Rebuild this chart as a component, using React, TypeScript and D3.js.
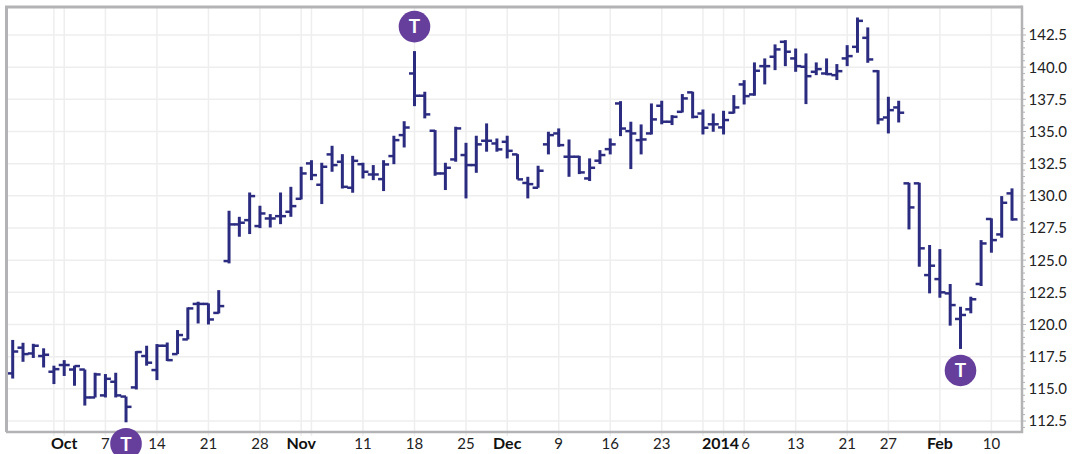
import React, { useEffect, useRef } from "react";
import * as d3 from "d3";

const opens = [116.2,118.2,117.75,117.55,116.33,116.85,116.5,116.5,114.33,114.49,115.55,114.4,115.11,117.55,116.46,118.35,117.7,118.84,121.6,121.6,120.9,124.93,127.78,128.11,127.65,128.24,128.42,128.76,129.77,132.52,130.86,133.22,132.65,130.63,132.46,131.66,131.3,133.09,134.72,139.51,137.78,135.06,131.74,132.83,133.17,132.39,134.28,134.07,134.2,133.22,131.0,130.63,134.0,134.85,133.04,133.04,131.35,132.73,133.63,137.18,135.03,134.33,134.85,137.0,135.76,136.53,138.04,136.4,135.56,135.32,136.46,138.66,137.88,140.08,140.81,141.97,140.68,140.03,139.64,139.51,139.38,140.68,141.58,142.28,139.69,136.09,136.87,130.97,130.97,123.84,123.53,122.42,120.43,121.18,123.15,128.2,127.0,130.19];
const highs = [118.8,118.58,118.5,118.15,116.8,117.23,116.8,116.5,116.25,116.15,116.25,114.4,117.93,118.35,118.48,118.6,119.57,121.33,121.77,121.64,122.67,128.84,128.37,130.26,129.23,128.58,130.26,130.7,132.26,132.77,132.57,133.89,133.24,133.11,132.57,132.39,132.77,134.67,135.8,141.25,138.09,135.11,132.57,135.37,134.12,134.67,135.63,134.46,134.67,133.24,131.48,132.34,134.98,135.24,134.38,133.11,132.91,133.55,134.46,137.36,135.76,135.55,137.18,137.39,136.27,137.91,138.09,136.71,136.4,136.61,137.83,138.99,140.37,140.68,141.77,142.1,141.45,141.07,140.37,140.68,140.24,141.71,143.86,143.09,139.77,137.7,137.39,131.02,131.02,126.18,125.86,123.15,121.38,122.16,126.56,128.25,129.98,130.58];
const lows = [115.8,117.1,117.4,116.66,115.37,116.0,115.24,113.7,114.33,114.33,114.33,112.4,114.95,116.8,115.68,117.16,117.7,118.84,120.08,120.0,120.86,124.75,126.82,127.03,127.49,127.54,127.8,128.37,129.72,131.22,129.36,131.87,130.57,130.24,131.35,131.22,130.37,132.46,133.76,136.97,136.02,131.56,130.45,132.65,129.8,131.79,133.43,133.43,132.91,131.28,129.8,130.63,133.22,133.81,131.48,131.69,131.15,132.47,133.22,134.64,132.08,133.22,134.77,135.56,135.5,136.48,136.02,134.77,134.98,134.77,136.4,137.1,137.78,138.66,139.77,140.08,139.64,137.13,139.38,139.38,139.0,140.08,141.12,140.34,135.56,134.85,135.7,127.39,124.49,122.42,122.08,119.91,118.1,120.87,122.99,125.58,126.75,128.07];
const closes = [117.9,117.7,118.35,117.65,116.53,116.85,116.77,114.33,116.12,115.78,114.49,113.6,117.86,117.03,118.35,117.23,119.18,121.25,121.6,120.39,121.43,127.78,127.91,129.98,128.63,128.24,128.42,129.2,131.74,131.61,132.26,132.39,130.7,132.72,131.87,131.66,132.44,134.33,135.31,137.78,136.33,131.74,132.18,135.24,132.39,134.0,134.28,133.61,133.5,131.28,130.91,131.95,134.72,133.94,133.04,131.82,132.18,133.17,134.0,135.23,134.85,134.38,135.94,135.76,136.14,137.57,136.14,135.29,135.56,135.89,136.87,137.75,139.72,140.08,141.38,141.2,140.08,139.3,139.85,139.46,139.69,140.86,143.6,140.6,135.94,136.66,136.46,129.1,125.92,124.57,122.5,121.51,120.74,121.96,126.3,126.56,129.46,128.17];

const priceTicks = [112.5,115,117.5,120,122.5,125,127.5,130,132.5,135,137.5,140,142.5];
// bar index of every weekly gridline, and the label it gets (some are dropped)
const gridBars = [4,5,9,14,19,24,28,29,34,39,44,48,53,58,63,67,69,71,76,81,85,90,95];
const dateBars = [5,9,14,19,24,28,34,39,44,48,53,58,63,69,71,76,81,85,90,95];
const dateLabels = ["Oct","7","14","21","28","Nov","11","18","25","Dec","9","16","23","2014","6","13","21","27","Feb","10"];
const boldLabels = ["Oct","Nov","Dec","2014","Feb"];
// "T" event markers
const eventBars = [11,39,92];
const eventSides = ["below","above","below"];

const width = 1072;
const height = 454;
const marginLeft = 7;
const marginRight = 50;
const marginTop = 7;
const marginBottom = 22;
const font = "Lato, sans-serif";

export default function App() {
  const svgRef = useRef<SVGSVGElement>(null);

  useEffect(() => {
    const svg = d3.select(svgRef.current);
    svg.selectAll("*").remove();

    const right = width - marginRight;
    const bottom = height - marginBottom;

    const x = d3.scaleLinear().domain([0, opens.length - 1]).range([12.7, 1012]);
    const y = d3.scaleLinear().domain([112.5, 142.5]).range([421, 35]);

    // gridlines
    svg.append("g")
      .selectAll("line")
      .data(priceTicks)
      .join("line")
      .attr("x1", marginLeft)
      .attr("x2", right)
      .attr("y1", (d) => y(d))
      .attr("y2", (d) => y(d))
      .attr("stroke", "#eeeeef")
      .attr("stroke-width", 1.5);

    svg.append("g")
      .selectAll("line")
      .data(gridBars)
      .join("line")
      .attr("x1", (d) => x(d))
      .attr("x2", (d) => x(d))
      .attr("y1", marginTop)
      .attr("y2", bottom + 4)
      .attr("stroke", "#eeeeef")
      .attr("stroke-width", 1.5);

    // OHLC bars
    const bars = svg.append("g")
      .attr("stroke", "#2b2c80")
      .selectAll("g")
      .data(opens.map((open, i) => ({ i, open, high: highs[i], low: lows[i], close: closes[i] })))
      .join("g");

    bars.append("line")
      .attr("x1", (d) => x(d.i))
      .attr("x2", (d) => x(d.i))
      .attr("y1", (d) => y(d.high))
      .attr("y2", (d) => y(d.low))
      .attr("stroke-width", 3);
    bars.append("line")
      .attr("x1", (d) => x(d.i) - 5.5)
      .attr("x2", (d) => x(d.i))
      .attr("y1", (d) => y(d.open))
      .attr("y2", (d) => y(d.open))
      .attr("stroke-width", 2.5);
    bars.append("line")
      .attr("x1", (d) => x(d.i))
      .attr("x2", (d) => x(d.i) + 5.5)
      .attr("y1", (d) => y(d.close))
      .attr("y2", (d) => y(d.close))
      .attr("stroke-width", 2.5);

    // frame
    svg.append("path")
      .attr("d", `M${marginLeft - 0.5},${bottom} V${marginTop} H${right}`)
      .attr("fill", "none")
      .attr("stroke", "#b3b3b6")
      .attr("stroke-width", 3);
    svg.append("path")
      .attr("d", `M${marginLeft - 1},${bottom} H${right} V${marginTop - 1.5}`)
      .attr("fill", "none")
      .attr("stroke", "#b3b3b6")
      .attr("stroke-width", 2.5);

    // price axis, with small ticks every half point
    const minor = d3.range(112, 143.5, 0.5).filter((d) => y(d) > marginTop && y(d) < bottom);
    svg.append("g")
      .selectAll("line")
      .data(minor)
      .join("line")
      .attr("x1", right)
      .attr("x2", (d) => right + (d % 2.5 === 0 ? 4 : 3))
      .attr("y1", (d) => y(d))
      .attr("y2", (d) => y(d))
      .attr("stroke", "#b3b3b6");

    svg.append("g")
      .selectAll("text")
      .data(priceTicks)
      .join("text")
      .attr("x", right + 6.5)
      .attr("y", (d) => y(d))
      .attr("dy", "0.36em")
      .attr("font-family", font)
      .attr("font-size", 15)
      .attr("fill", "#222")
      .text((d) => d.toFixed(1));

    // date axis, "2014" sits tight against the "6" so both get pushed apart a little
    const nudge = (label: string) => (label === "2014" ? -3 : label === "6" ? 1.5 : 0);
    svg.append("g")
      .selectAll("text")
      .data(dateBars)
      .join("text")
      .attr("x", (d, i) => x(d) + nudge(dateLabels[i]))
      .attr("y", bottom + 17)
      .attr("text-anchor", "middle")
      .attr("font-family", font)
      .attr("font-size", (d, i) => (boldLabels.includes(dateLabels[i]) ? 16 : 15))
      .attr("font-weight", (d, i) => (boldLabels.includes(dateLabels[i]) ? 700 : 400))
      .attr("fill", (d, i) => (boldLabels.includes(dateLabels[i]) ? "#111" : "#222"))
      .text((d, i) => dateLabels[i]);

    // event markers
    const events = svg.append("g")
      .selectAll("g")
      .data(eventBars)
      .join("g")
      .attr("transform", (d, i) =>
        eventSides[i] === "above"
          ? `translate(${x(d)},${y(highs[d]) - 24.5})`
          : `translate(${x(d)},${y(lows[d]) + 21.5})`
      );
    events.append("circle").attr("r", 15.8).attr("fill", "#663e9c");
    events.append("text")
      .attr("text-anchor", "middle")
      .attr("dy", "0.36em")
      .attr("font-family", font)
      .attr("font-size", 19)
      .attr("font-weight", 700)
      .attr("fill", "#fff")
      .text("T");
  }, []);

  return (
    <svg
      ref={svgRef}
      width={width}
      height={height}
      style={{ position: "absolute", left: 0, top: 0, display: "block", background: "#fff" }}
    />
  );
}
